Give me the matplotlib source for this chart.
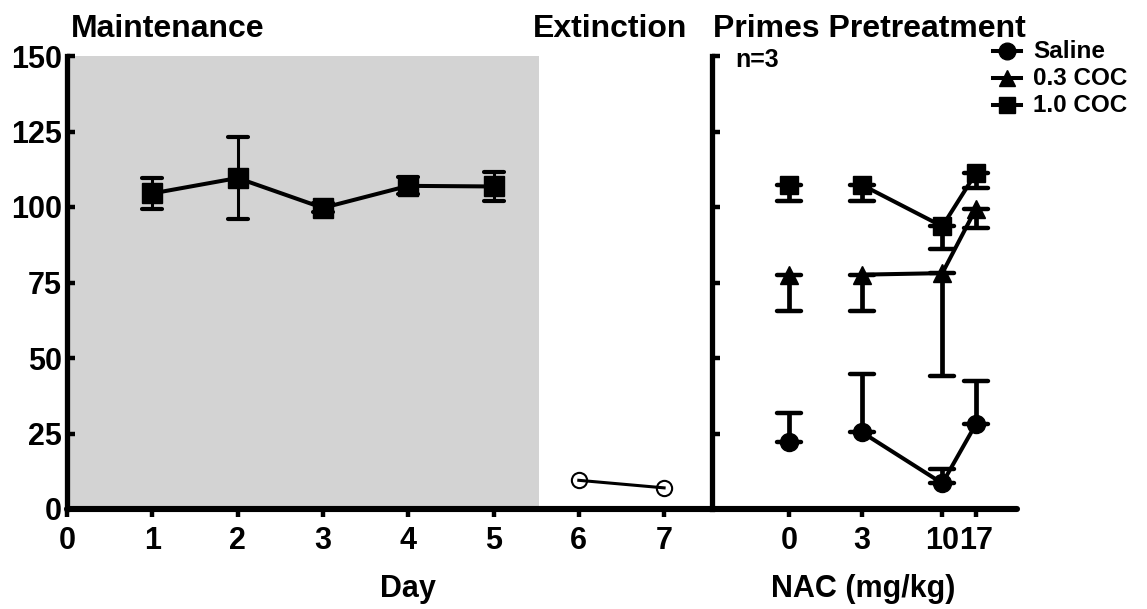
import matplotlib
matplotlib.use("Agg")
import matplotlib.pyplot as plt
from matplotlib.lines import Line2D
from matplotlib.markers import MarkerStyle

plt.rcParams['font.family'] = ['Liberation Sans', 'DejaVu Sans']
plt.rcParams['font.weight'] = 'bold'

# maintenance self-administration, days 1-5
days = [1, 2, 3, 4, 5]
maint_mean = [104.5, 109.6, 99.7, 107.0, 106.8]
maint_sem = [5.0, 13.6, 1.5, 2.8, 4.7]

# extinction sessions
ext_days = [6, 7]
ext_mean = [9.5, 7.0]

# reinstatement primes after NAC pretreatment
nac_doses = ['0', '3', '10', '17']
nac_pos = [0, 1, 2.1, 2.56]
saline_mean = [22.3, 25.4, 8.5, 28.1]
saline_sem = [9.4, 19.3, 4.7, 14.4]
coc03_mean = [77.6, 77.6, 78.1, 99.4]
coc03_sem = [11.9, 11.9, 33.9, 6.5]
coc10_mean = [107.3, 107.3, 93.6, 111.2]
coc10_sem = [5.4, 5.4, 7.5, 5.0]

W, H = 1147, 609
fig = plt.figure(figsize=(W / 100, H / 100), dpi=100)

def fx(px):
    return px / W

def fy(py):
    return 1 - py / H

def round_caps(eb):
    # errorbar caps with rounded ends
    for cap in eb[1]:
        cap.set_marker(MarkerStyle('_', capstyle='round'))

ax_bottom, ax_top = 509, 56
ax = fig.add_axes([fx(67), fy(ax_bottom), fx(1017 - 67), (ax_bottom - ax_top) / H])
ax.set_xlim(0, (1017 - 67) / 85.3)
ax.set_ylim(0, 150)
ax.axvspan(0, 5.53, color='#d3d3d3', lw=0, zorder=0)

for s in ['top', 'right']:
    ax.spines[s].set_visible(False)
ax.spines['left'].set_linewidth(3.8)
ax.spines['bottom'].set_linewidth(4.4)
ax.spines['bottom'].set_capstyle('round')

ax.set_xticks(range(0, 8))
ax.set_xticklabels([str(d) for d in range(0, 8)])
ax.set_yticks(range(0, 151, 25))
ax.tick_params(axis='x', direction='out', length=6, width=3.2, pad=6, labelsize=22)
ax.tick_params(axis='y', direction='in', length=6, width=3.2, pad=3.5, labelsize=22)

eb = ax.errorbar(days, maint_mean, yerr=maint_sem, color='black', lw=2.9, marker='s',
                 ms=14, elinewidth=2.2, capsize=7.2, capthick=3, zorder=3)
round_caps(eb)
ax.plot(ext_days, ext_mean, color='black', lw=2.2, marker='o', ms=11,
        mfc='none', mec='black', mew=1.5, zorder=3)

# right panel: dose response
ax2 = fig.add_axes([fx(712), fy(ax_bottom), fx(1017 - 712), (ax_bottom - ax_top) / H])
ax2.patch.set_alpha(0)
ax2.set_xlim((712 - 789) / 73, (1017 - 789) / 73)
ax2.set_ylim(0, 150)
for s in ['top', 'right', 'bottom']:
    ax2.spines[s].set_visible(False)
ax2.spines['left'].set_linewidth(3.8)
ax2.set_yticks(range(0, 151, 25))
ax2.tick_params(axis='y', direction='in', length=6, width=3.2, labelleft=False)
ax2.set_xticks(nac_pos)
ax2.set_xticklabels(nac_doses)
ax2.tick_params(axis='x', direction='out', length=6, width=3.2, pad=6, labelsize=22)

zero = [0, 0, 0, 0]
series = [
    (saline_mean, [zero, saline_sem], 'o'),
    (coc03_mean, [coc03_sem, zero], '^'),
    (coc10_mean, [coc10_sem, zero], 's'),
]
for mean, err, mk in series:
    eb = ax2.errorbar(nac_pos, mean, yerr=err, fmt='none', ecolor='black',
                      elinewidth=3.4, capsize=8.3, capthick=3.2, zorder=2)
    round_caps(eb)
    ax2.plot(nac_pos[1:], mean[1:], color='black', lw=2.9, zorder=3)
    ax2.plot(nac_pos, mean, ls='none', marker=mk, color='black', ms=13, zorder=4)

# titles
fig.text(fx(71), fy(37), 'Maintenance', fontsize=23, ha='left', va='baseline')
fig.text(fx(533), fy(37), 'Extinction', fontsize=23, ha='left', va='baseline')
fig.text(fx(713), fy(37), 'Primes Pretreatment', fontsize=23, ha='left', va='baseline')
fig.text(fx(735), fy(67), 'n=3', fontsize=18, ha='left', va='baseline')

# axis labels
fig.text(fx(408), fy(597), 'Day', fontsize=22, ha='center', va='baseline')
fig.text(fx(863), fy(597), 'NAC (mg/kg)', fontsize=22, ha='center', va='baseline')

# legend
leg_rows = [('o', 'Saline', 51, 58), ('^', '0.3 COC', 78, 85), ('s', '1.0 COC', 105, 112)]
for mk, label, ym, yt in leg_rows:
    fig.add_artist(Line2D([fx(993), fx(1007), fx(1021)], [fy(ym)] * 3,
                          transform=fig.transFigure, color='black', lw=2.9,
                          marker=mk, ms=12, markevery=[1]))
    fig.text(fx(1033), fy(yt), label, fontsize=17.5, ha='left', va='baseline')

fig.savefig('out.png', dpi=100)
